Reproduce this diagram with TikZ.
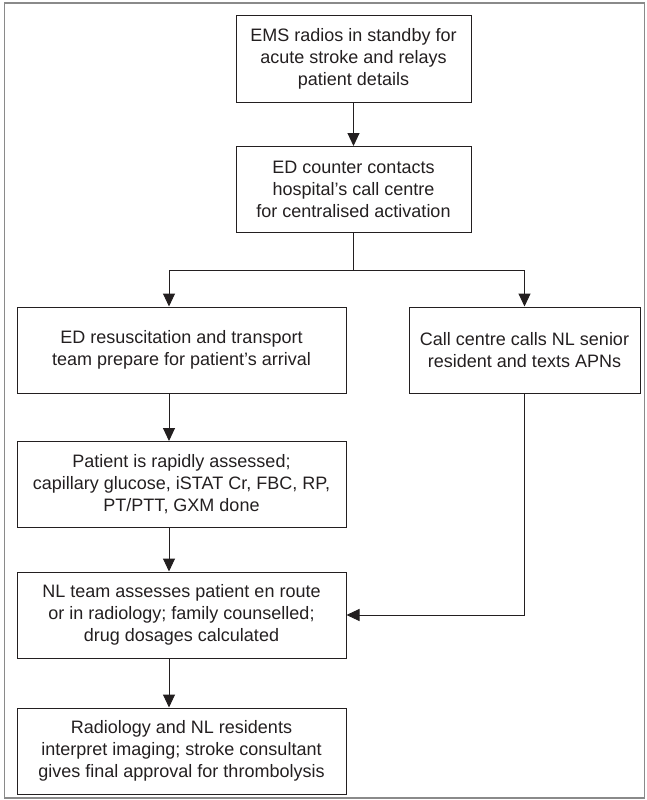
\documentclass[tikz,border=0pt]{standalone}
\usepackage{fontspec}
\setmainfont{Liberation Sans}
\usetikzlibrary{arrows.meta}
\definecolor{ink}{HTML}{231F20}
\definecolor{framegray}{HTML}{8A8A8A}

\begin{document}
\begin{tikzpicture}[x=1pt, y=-1pt]
  \tikzset{
    stepbox/.style={
      draw=ink, line width=1pt, text=ink, align=center, inner sep=0pt,
      font=\fontsize{18}{22}\selectfont
    },
    narrowbox/.style={
      stepbox, minimum width=235pt, minimum height=86pt
    },
    widebox/.style={
      stepbox, minimum width=329pt, minimum height=86pt
    },
    flow/.style={
      draw=ink, line width=1pt, -{Triangle[width=12pt, length=13pt]}
    }
  }

  \useasboundingbox (0,0) rectangle (646,800);
  \draw [framegray, line width=1.5pt] (4.5,3) rectangle (644.5,798);

  \node [narrowbox] (ems) at (353.5,59) {EMS radios in standby for\\acute stroke and relays\\patient details};
  \node [narrowbox] (edc) at (353.5,189.5) {ED counter contacts\\hospital’s call centre\\for centralised activation};
  \node [widebox] (resus) at (181.5,350) {ED resuscitation and transport\\team prepare for patient’s arrival};
  \node [narrowbox, minimum width=231pt] (call) at (524.5,350) {Call centre calls NL senior\\resident and texts APNs};
  \node [widebox] (assess) at (181.5,484.5) {Patient is rapidly assessed;\\capillary glucose, iSTAT Cr, FBC, RP,\\PT/PTT, GXM done};
  \node [widebox] (nlteam) at (181.5,615) {NL team assesses patient en route\\or in radiology; family counselled;\\drug dosages calculated};
  \node [widebox] (approve) at (181.5,751) {Radiology and NL residents\\interpret imaging; stroke consultant\\gives final approval for thrombolysis};

  % left column arrows run a bit left of the box centres
  \coordinate (lcol) at (169,0);
  \coordinate (split) at (353.5,270);

  \draw [flow] (ems) -- (edc);
  \draw [draw=ink, line width=1pt] (edc) -- (split);
  \draw [flow] (split) -| (lcol |- resus.north);
  \draw [flow] (split) -| (call.north);

  \foreach \a/\b in {resus/assess, assess/nlteam, nlteam/approve} {
    \draw [flow] (lcol |- \a.south) -- (lcol |- \b.north);
  }

  \draw [flow] (call.south) |- (nlteam.east);
\end{tikzpicture}
\end{document}
